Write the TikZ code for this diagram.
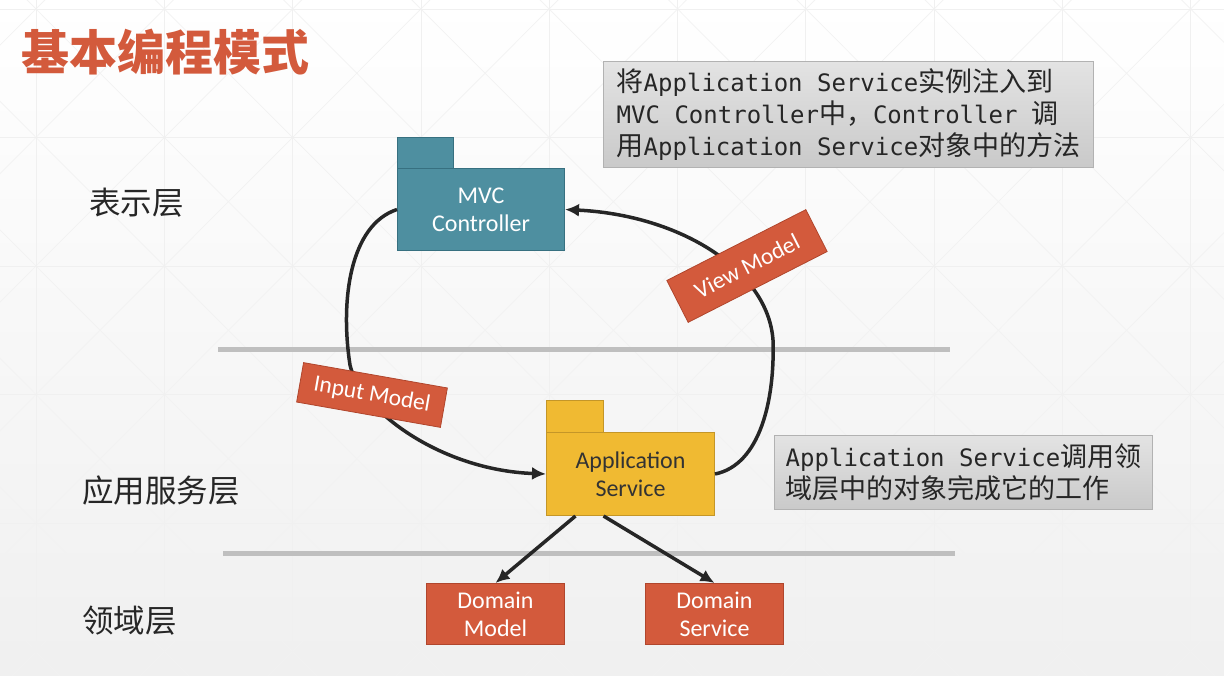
\documentclass[tikz,border=0pt]{standalone}
\usepackage{fontspec}
\setmainfont{Carlito}
\newfontfamily\cjk{Noto Sans CJK SC}
\newfontfamily\mono{DejaVu Sans Mono}
\usetikzlibrary{arrows.meta}
\definecolor{accent}{RGB}{211,90,60}
\definecolor{accentdk}{RGB}{176,70,45}
\definecolor{pkgteal}{RGB}{78,143,160}
\definecolor{pkgtealdk}{RGB}{55,112,128}
\definecolor{pkgyel}{RGB}{240,186,50}
\definecolor{pkgyeldk}{RGB}{196,150,40}
\definecolor{ink}{RGB}{38,38,38}
\definecolor{sepgray}{RGB}{191,191,191}
\newcommand{\cj}[1]{{\cjk\fontsize{27}{32}\selectfont #1}}
\begin{document}
\begin{tikzpicture}[x=1pt,y=-1pt,
  pkgtab/.style={draw, line width=1pt, anchor=north west, inner sep=0pt},
  pkgbody/.style={draw, line width=1pt, anchor=north west, inner sep=0pt, align=center,
    font=\fontsize{24}{28}\selectfont},
  dombox/.style={draw=accentdk, fill=accent, line width=1pt, anchor=north west, inner sep=0pt,
    minimum width=138pt, minimum height=61pt, align=center, text=white,
    font=\fontsize{24}{28}\selectfont},
  tagbox/.style={draw=accentdk, fill=accent, line width=0.8pt, inner sep=0pt, text=white,
    font=\fontsize{23.5}{28}\selectfont},
  notebox/.style={draw=black!30, line width=1pt, top color=black!11, bottom color=black!21,
    anchor=north west, inner sep=0pt, align=left, text=ink,
    font=\mono\fontsize{24}{32}\selectfont},
  layerlbl/.style={anchor=west, inner sep=0pt, text=ink, font=\cjk\fontsize{31.5}{32}\selectfont},
  conn/.style={draw=ink, line width=3.5pt, -{Latex[length=14pt,width=13pt]}},
  sepline/.style={draw=sepgray, line width=5pt},
  gridln/.style={draw=black!6, line width=0.8pt},
  diagln/.style={draw=black!5, line width=0.7pt}
]
\useasboundingbox (0,0) rectangle (1224,676);
\shade[top color=white, bottom color=black!6] (0,0) rectangle (1224,676);
\begin{scope}
\clip (0,0) rectangle (1224,676);
\foreach \i in {-1,...,9}{
  \foreach \j in {-1,...,5}{
    \draw[diagln] ({36+128.3*\i},{9+128.5*\j}) -- ({36+128.3*(\i+1)},{9+128.5*(\j+1)});
    \draw[diagln] ({36+128.3*(\i+1)},{9+128.5*\j}) -- ({36+128.3*\i},{9+128.5*(\j+1)});
  }
}
\foreach \i in {0,...,9}{ \draw[gridln] ({36+128.3*\i},0) -- ({36+128.3*\i},676); }
\foreach \j in {0,...,5}{ \draw[gridln] (0,{9+128.5*\j}) -- (1224,{9+128.5*\j}); }
\end{scope}

% title
\node[anchor=west, inner sep=0pt, text=accent, font=\cjk\bfseries\fontsize{48}{48}\selectfont] (title) at (21,52) {基本编程模式};

% layer labels
\node[layerlbl] (lpres) at (89,203) {表示层};
\node[layerlbl] (lapp) at (82,491) {应用服务层};
\node[layerlbl] (ldom) at (82,621) {领域层};

% separators
\draw[sepline] (218,350) -- (950,350);
\draw[sepline] (223,553) -- (955,553);

% MVC package
\node[pkgtab, fill=pkgteal, draw=pkgtealdk, minimum width=56pt, minimum height=31pt] (mvctab) at (397,137) {};
\node[pkgbody, fill=pkgteal, draw=pkgtealdk, text=white, minimum width=167pt, minimum height=82pt] (mvc) at (397,168) {MVC\\Controller};

% Application package
\node[pkgtab, fill=pkgyel, draw=pkgyeldk, minimum width=57pt, minimum height=32pt] (apptab) at (546,400) {};
\node[pkgbody, fill=pkgyel, draw=pkgyeldk, text=black!80, minimum width=168pt, minimum height=83pt] (app) at (546,432) {Application\\Service};

% Domain boxes
\node[dombox] (dmodel) at (426,583) {Domain\\Model};
\node[dombox] (dservice) at (645,583) {Domain\\Service};

% notes
\node[notebox, minimum width=490pt, minimum height=106pt] (note1) at (603,61)
 {\cj{将}Application Service\cj{实例注入到}\\MVC Controller\cj{中，}Controller \cj{调}\\\cj{用}Application Service\cj{对象中的方法}};
\node[notebox, minimum width=378pt, minimum height=74pt] (note2) at (774,435)
 {Application Service\cj{调用领}\\\cj{域层中的对象完成它的工作}};

% connectors
\draw[conn] (mvc.west) .. controls (350,225) and (340,300) .. (350,365)
  .. controls (360,410) and (440,470) .. (app.west);
\draw[conn] (app.east) .. controls (760,465) and (775,400) .. (773,340)
  .. controls (768,270) and (680,215) .. (mvc.east);
\draw[conn] ([xshift=-55pt]app.south) -- (dmodel.north);
\draw[conn] ([xshift=-27pt]app.south) -- (dservice.north);

% rotated labels
\node[tagbox, rotate=-10, minimum width=146pt, minimum height=40pt] (inmodel) at (372,395) {Input Model};
\node[tagbox, rotate=27, minimum width=156pt, minimum height=47pt] (viewmodel) at (747,266) {View Model};
\end{tikzpicture}
\end{document}
